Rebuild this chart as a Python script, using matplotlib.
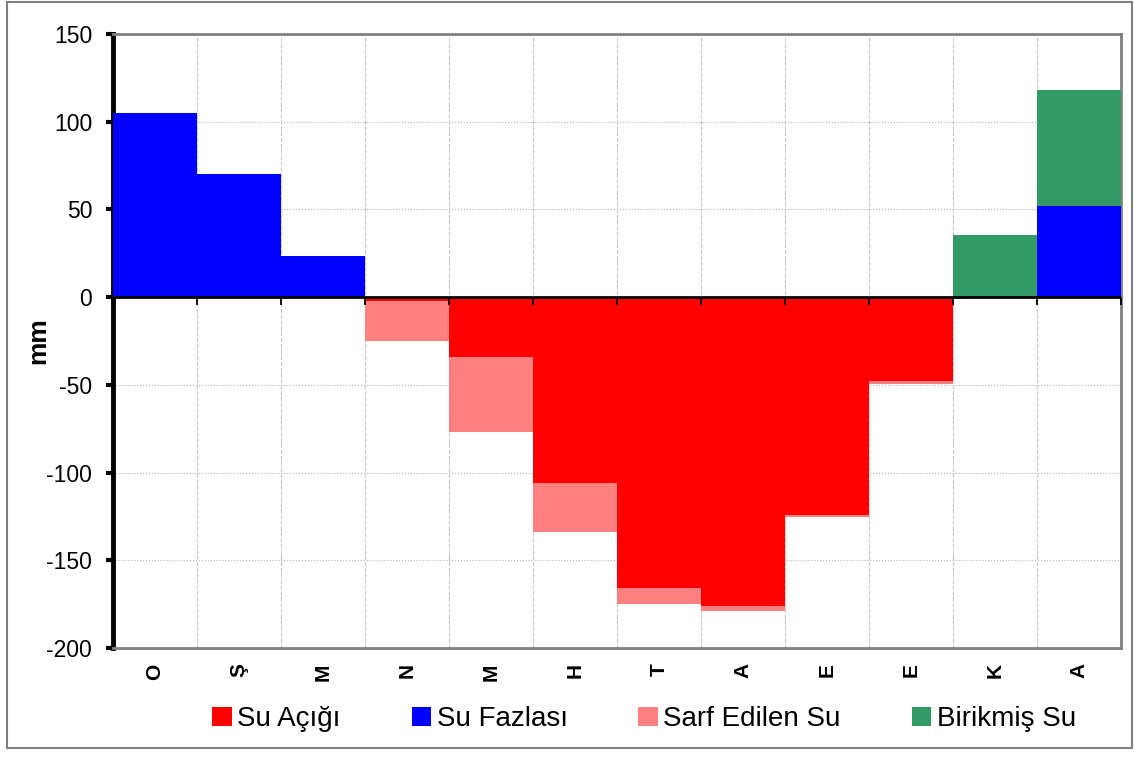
"""
monthly water balance chart (su bilancosu)
"""

import numpy as np
from matplotlib import pyplot as plt
from matplotlib.patches import Rectangle

plt.rcParams['font.family'] = ['Liberation Sans', 'DejaVu Sans']

months = ['O', 'Ş', 'M', 'N', 'M', 'H', 'T', 'A', 'E', 'E', 'K', 'A']

# mm, negative values go downwards
su_acigi = [0, 0, 0, -2, -34, -106, -166, -176, -124, -48, 0, 0]
sarf_edilen = [0, 0, 0, -23, -43, -28, -9, -3, -1.5, -1.5, 0, 0]
su_fazlasi = [105, 70, 23.5, 0, 0, 0, 0, 0, 0, 0, 0, 52]
birikmis = [0, 0, 0, 0, 0, 0, 0, 0, 0, 0, 35.5, 66]

y_ticks = [-200, -150, -100, -50, 0, 50, 100, 150]

fig = plt.figure(figsize=(11.34, 7.58), dpi=100)
ax = fig.add_axes([0.0996, 0.1451, 0.8889, 0.81])

x = np.arange(len(months))

# stack the negative parts downwards and the positive parts upwards
ax.bar(x, su_acigi, width=1.0, color='#FF0000', label='Su Açığı', zorder=3)
ax.bar(x, su_fazlasi, width=1.0, color='#0000FF', label='Su Fazlası', zorder=3)
ax.bar(x, sarf_edilen, width=1.0, bottom=su_acigi, color='#FF8080',
       label='Sarf Edilen Su', zorder=3)
ax.bar(x, birikmis, width=1.0, bottom=su_fazlasi, color='#339966',
       label='Birikmiş Su', zorder=3)

# zero line with small ticks at month boundaries
ax.axhline(0, color='black', lw=2, zorder=4)
edges = np.arange(len(months) + 1) - 0.5
ax.plot(edges, np.zeros(len(edges)), ls='none', marker=3, ms=6, mew=1.3,
        color='black', zorder=4, clip_on=False)

ax.set_xlim(-0.5, len(months) - 0.5)
ax.set_ylim(-200, 150)
ax.set_yticks(y_ticks)
ax.set_yticklabels([str(v) for v in y_ticks], fontsize=16.5)
ax.set_xticks(x)
ax.set_xticklabels(months, rotation=90, fontsize=15, fontweight='bold')
ax.tick_params(axis='x', length=0, pad=11)
ax.tick_params(axis='y', direction='out', length=5, width=3, color='black', pad=10)
ax.set_xticks(edges, minor=True)
ax.tick_params(axis='x', which='minor', length=0)

ax.grid(True, axis='x', which='minor', color='#c8c8c8', ls='--', lw=0.8, zorder=0)
ax.grid(True, axis='y', which='major', color='#b4b4b4', ls=':', lw=0.8, zorder=0)

ax.set_ylabel('mm', fontsize=19, fontweight='bold', labelpad=-3)

for side in ['top', 'right', 'bottom']:
    ax.spines[side].set_color('#808080')
    ax.spines[side].set_linewidth(2)
ax.spines['left'].set_color('black')
ax.spines['left'].set_linewidth(3.5)

fig.legend(loc='center', bbox_to_anchor=(0.568, 0.051), ncol=4, frameon=False,
           fontsize=20, handlelength=0.7, handleheight=0.7, handletextpad=0.2,
           columnspacing=2.55)

# outer frame of the picture
fig.patches.append(Rectangle((0.006, 0.013), 0.992, 0.985, transform=fig.transFigure,
                             fill=False, edgecolor='#808080', lw=1.5))

plt.savefig('out.png', dpi=100)
